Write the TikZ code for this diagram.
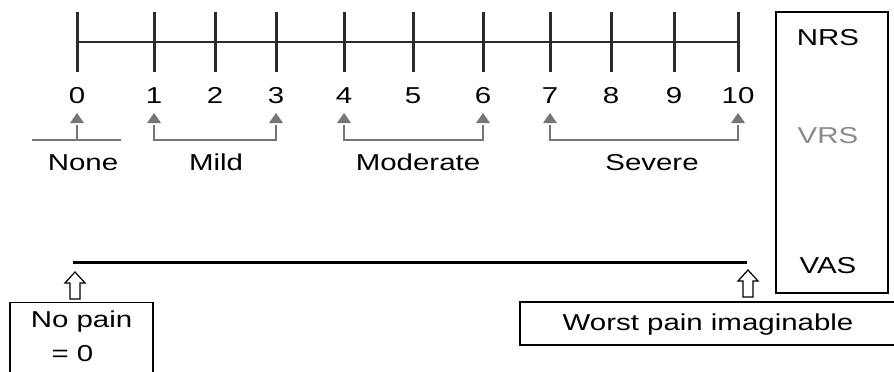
\documentclass[tikz,border=0pt]{standalone}
\usepackage{fontspec}
\usetikzlibrary{calc}
\setmainfont[FakeStretch=1.28]{Liberation Sans}
\definecolor{tickc}{HTML}{2A2A2A}
\definecolor{bracketc}{HTML}{767676}
\definecolor{vrsc}{HTML}{8A8A8A}
\begin{document}
\begin{tikzpicture}[x=1pt,y=-1pt,
  font=\fontsize{23}{34}\selectfont,
  tickline/.style={draw=tickc,line width=3pt},
  axisline/.style={draw=tickc,line width=2.4pt},
  bracket/.style={draw=bracketc,line width=1.6pt},
  tri/.style={fill=bracketc},
  lbl/.style={anchor=base,inner sep=0pt},
  boxed/.style={draw=black,line width=1.3pt,inner sep=0pt},
  vasline/.style={draw=black,line width=3pt},
  hollowup/.pic={\draw[line width=1.2pt,fill=white,line join=miter]
     (0,0) -- (10,11) -- (5,11) -- (5,27) -- (-5,27) -- (-5,11) -- (-10,11) -- cycle;}
]
\useasboundingbox (0,0) rectangle (894,372);
% NRS scale
\foreach \i/\x in {0/77,1/154,2/215,3/276,4/344,5/413,6/483,7/550,8/611,9/674,10/738}{
  \coordinate (t\i) at (\x,42);
  \draw[tickline] (t\i) ++(0,-30) -- ++(0,60);
  \node[lbl] (n\i) at (\x,103) {\i};
  \coordinate (b\i) at (\x,125);
}
\draw[axisline] (t0) -- (t10);
% VRS markers
\foreach \i in {0,1,3,4,6,7,10}{
  \coordinate (a\i) at ($(b\i)+(0,-12)$);
  \fill[tri] (a\i) -- ++(7,10) -- ++(-14,0) -- cycle;
}
% VRS brackets
\draw[bracket] (b0) -- ++(0,15);
\draw[bracket] (b0) ++(-45,15) -- ++(89,0);
\draw[bracket] (b1) -- ++(0,15) -| (b3);
\draw[bracket] (b4) -- ++(0,15) -| (b6);
\draw[bracket] (b7) -- ++(0,15) -| (b10);
\node[lbl] (none) at (83,170) {None};
\node[lbl] (mild) at (216,170) {Mild};
\node[lbl] (moderate) at (418,170) {Moderate};
\node[lbl] (severe) at (652,170) {Severe};
% right box
\node[boxed,minimum width=112pt,minimum height=281pt] (rbox) at (832,152.5) {};
\node[lbl] (nrs) at (828,45) {NRS};
\node[lbl,text=vrsc] (vrs) at (828,143) {VRS};
\node[lbl] (vas) at (828,273) {VAS};
% VAS line
\coordinate (vl) at (73,262);
\coordinate (vr) at (747,262);
\draw[vasline] (vl) -- (vr);
% end boxes
\node[boxed,anchor=north,minimum width=143pt,align=center,inner ysep=8pt] (nopain) at (81.5,302)
  {No pain\\= 0\hspace{18pt}\rule[-30pt]{0pt}{30pt}};
\node[boxed,minimum width=376pt,minimum height=43pt,text height=17pt,text depth=3pt] (worst) at (708,323.5)
  {Worst pain imaginable};
\coordinate (apl) at (75,272);
\coordinate (apr) at (748,270);
\pic at (apl) {hollowup};
\pic at (apr) {hollowup};
\end{tikzpicture}
\end{document}
